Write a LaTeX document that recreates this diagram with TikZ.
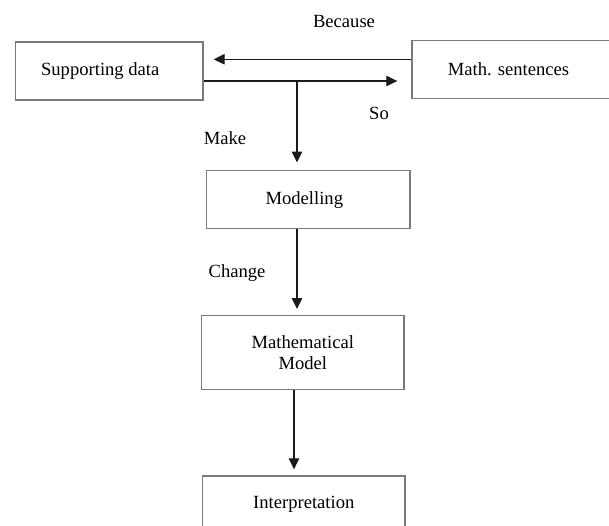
\documentclass[tikz,border=0pt]{standalone}
\usepackage{fontspec}
\setmainfont{Liberation Serif}
\usetikzlibrary{arrows.meta}
\definecolor{boxgray}{HTML}{7A7A7A}
\definecolor{arrowblack}{HTML}{1A1A1A}
\begin{document}
\begin{tikzpicture}[x=1pt,y=-1pt,
  box/.style={draw=boxgray, line width=1.4pt, inner sep=0pt, align=center,
    font=\fontsize{18.6}{21.5}\selectfont},
  lbl/.style={inner sep=0pt, font=\fontsize{18.6}{21.5}\selectfont},
  arr/.style={draw=arrowblack, line width=1.2pt, -{Triangle[length=11pt,width=10.5pt]}}]
\clip (0,0) rectangle (609,525);
\fill[white] (0,0) rectangle (609,525);
% boxes
\node[box, minimum width=187.5pt, minimum height=58pt] (sup) at (109.25,71) {\hspace*{-18pt}Supporting data};
\node[box, minimum width=218pt, minimum height=58pt] (math) at (521,69.3) {\hspace*{-25pt}Math. sentences};
\node[box, minimum width=203.3pt, minimum height=58pt] (mod) at (308.3,199.7) {\hspace*{-8pt}Modelling};
\node[box, minimum width=202.3pt, minimum height=73.6pt] (mm) at (302.8,352.5) {Mathematical\\Model};
\node[box, minimum width=202.3pt, minimum height=56pt] (int) at (303.8,504) {Interpretation};
% labels
\node[lbl] (because) at (344,21.7) {Because};
\node[lbl] (so) at (379,113.3) {So};
\node[lbl] (make) at (225,138) {Make};
\node[lbl] (change) at (237,272.7) {Change};
% connectors
\coordinate (b) at ([yshift=10pt]math.west);
\draw[arr, shorten >=10pt] (b) -- (b -| sup.east);
\coordinate (s) at ([yshift=-10pt]sup.east);
\draw[arr, shorten >=14pt] (s) -- (s -| math.west);
\coordinate (j) at (297,81);
\draw[arr, shorten >=7.5pt] (j |- s) -- (j |- mod.north);
\draw[arr, shorten >=6pt] (mod.south -| j) -- (mm.north -| j);
\coordinate (k) at (294,0);
\draw[arr, shorten >=6pt] (mm.south -| k) -- (int.north -| k);
\end{tikzpicture}
\end{document}
